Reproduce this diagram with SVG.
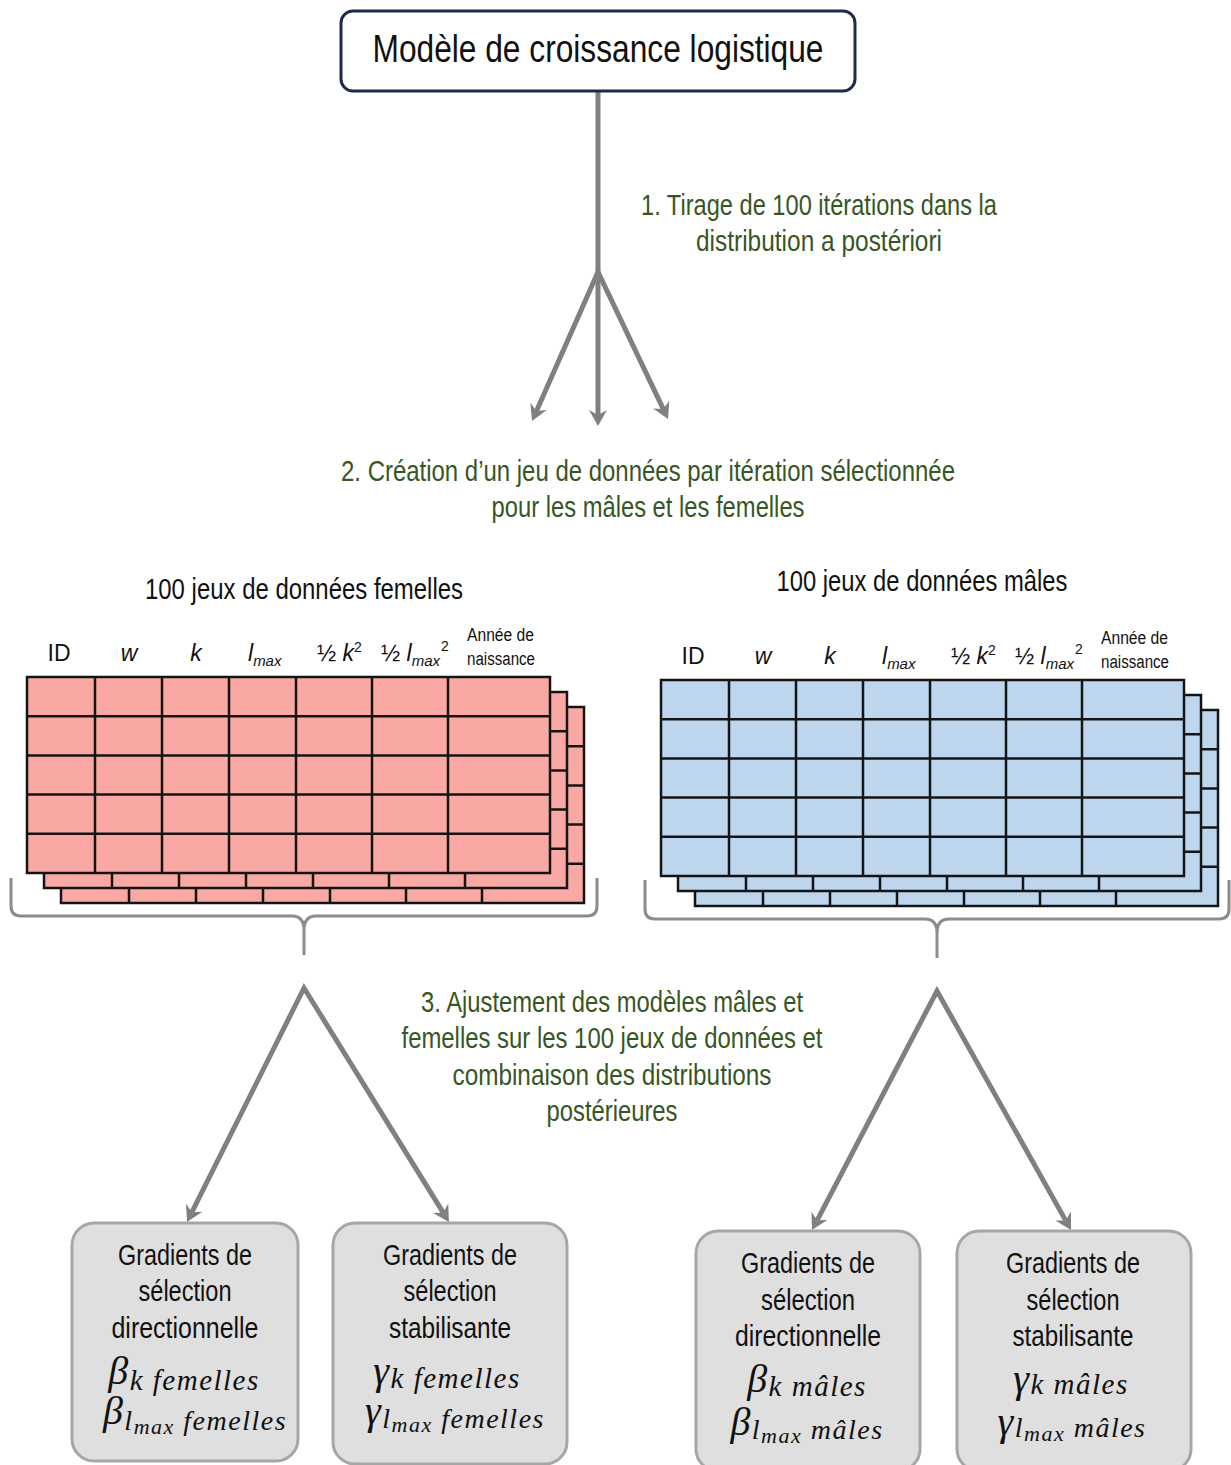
<svg xmlns="http://www.w3.org/2000/svg" xmlns:xlink="http://www.w3.org/1999/xlink" width="1231" height="1465" viewBox="0 0 1231 1465">
<style>
  .sans { font-family: "Liberation Sans", Arial, sans-serif; }
  .lbl { font-family: "Liberation Sans", Arial, sans-serif; fill: #375623; font-size: 29px; text-anchor: middle; }
  .hdr { font-family: "Liberation Sans", Arial, sans-serif; fill: #111; font-size: 23px; }
  .small { font-family: "Liberation Sans", Arial, sans-serif; fill: #111; font-size: 18px; }
  .box { fill: #DFDFDF; stroke: #A6A6A6; stroke-width: 3; }
  .btxt { font-family: "Liberation Sans", Arial, sans-serif; fill: #111; font-size: 29px; text-anchor: middle; }
  .math { font-family: "Liberation Serif", "Times New Roman", serif; font-style: italic; fill: #111; text-anchor: middle; letter-spacing: 1.5px; }
  .conn { fill: none; stroke: #808080; stroke-width: 5; stroke-linejoin: miter; stroke-miterlimit: 20; }
  .brace { fill: none; stroke: #8C8C8C; stroke-width: 3; }
  .gridlines { fill: none; }
</style>
<defs>
  <marker id="ah" markerUnits="userSpaceOnUse" markerWidth="20" markerHeight="20" refX="5" refY="9" orient="auto-start-reverse" viewBox="0 0 20 20">
    <path d="M0,0 L16,9 L0,18 L5,9 Z" fill="#808080"/>
  </marker>
  <g id="grid">
    <rect x="0" y="0" width="523" height="196"/>
    <path class="gridlines" d="M68,0V196 M135,0V196 M202,0V196 M269,0V196 M345,0V196 M421,0V196 M0,39.2H523 M0,78.4H523 M0,117.6H523 M0,156.8H523"/>
  </g>
  <g id="headers">
    <text class="hdr" x="59" y="661" text-anchor="middle">ID</text>
    <text class="hdr" x="129" y="661" text-anchor="middle" font-family="Liberation Serif" font-style="italic" font-size="25">w</text>
    <text class="hdr" x="196" y="661" text-anchor="middle" font-style="italic">k</text>
    <text class="hdr" x="248" y="661" font-style="italic">l<tspan font-size="15" dy="5">max</tspan></text>
    <text class="hdr" x="317" y="661">½ <tspan font-style="italic">k</tspan><tspan font-size="14" dy="-9">2</tspan></text>
    <text class="hdr" x="381" y="661">½ <tspan font-style="italic">l</tspan><tspan font-size="15" dy="5" font-style="italic">max</tspan><tspan font-size="14" dy="-15" dx="1">2</tspan></text>
    <text class="small" x="467" y="641" textLength="67" lengthAdjust="spacingAndGlyphs">Année de</text>
    <text class="small" x="467" y="665" textLength="68" lengthAdjust="spacingAndGlyphs">naissance</text>
  </g>
</defs>
<rect width="1231" height="1465" fill="#FFFFFF"/>

<g id="connectors">
  <line class="conn" x1="598" y1="91" x2="598" y2="415" marker-end="url(#ah)"/>
  <path class="conn" d="M536.5,410.9 L598,272 L663.3,409.1" marker-start="url(#ah)" marker-end="url(#ah)"/>
  <path class="conn" d="M191.9,1212.2 L304,988 L443.2,1212.6" marker-start="url(#ah)" marker-end="url(#ah)"/>
  <path class="conn" d="M817.1,1220.3 L937,991 L1065.6,1220.4" marker-start="url(#ah)" marker-end="url(#ah)"/>
  <path class="brace" d="M11,878 V906 Q11,916 21,916 H292 Q304,916 304,930 V955 M597,878 V906 Q597,916 587,916 H316 Q304,916 304,930"/>
  <path class="brace" d="M645,880 V909 Q645,919 655,919 H925 Q937,919 937,933 V958 M1229,880 V909 Q1229,919 1219,919 H949 Q937,919 937,933"/>
</g>

<g id="node-modele">
  <rect x="341" y="11" width="514" height="80" rx="12" fill="#FFFFFF" stroke="#1E2B47" stroke-width="3"/>
  <text class="sans" x="598" y="62" font-size="38" text-anchor="middle" fill="#111" textLength="451" lengthAdjust="spacingAndGlyphs">Modèle de croissance logistique</text>
</g>

<g id="label-1">
  <text class="lbl" x="819" y="215" textLength="356" lengthAdjust="spacingAndGlyphs">1. Tirage de 100 itérations dans la</text>
  <text class="lbl" x="819" y="251" textLength="246" lengthAdjust="spacingAndGlyphs">distribution a postériori</text>
</g>

<g id="label-2">
  <text class="lbl" x="648" y="481" textLength="614" lengthAdjust="spacingAndGlyphs">2. Création d’un jeu de données par itération sélectionnée</text>
  <text class="lbl" x="648" y="517" textLength="313" lengthAdjust="spacingAndGlyphs">pour les mâles et les femelles</text>
</g>

<g id="node-femelles">
  <text class="sans" x="304" y="599" font-size="29" text-anchor="middle" fill="#111" textLength="318" lengthAdjust="spacingAndGlyphs">100 jeux de données femelles</text>
  <use xlink:href="#headers"/>
  <g fill="#F9A8A4" stroke="#141414" stroke-width="2.5">
    <use xlink:href="#grid" x="61" y="707"/>
    <use xlink:href="#grid" x="44" y="692"/>
    <use xlink:href="#grid" x="27" y="677"/>
  </g>
</g>

<g id="node-males">
  <text class="sans" x="922" y="591" font-size="29" text-anchor="middle" fill="#111" textLength="291" lengthAdjust="spacingAndGlyphs">100 jeux de données mâles</text>
  <use xlink:href="#headers" x="634" y="3"/>
  <g fill="#BDD6EE" stroke="#141414" stroke-width="2.5">
    <use xlink:href="#grid" x="695" y="710"/>
    <use xlink:href="#grid" x="678" y="695"/>
    <use xlink:href="#grid" x="661" y="680"/>
  </g>
</g>

<g id="label-3">
  <text class="lbl" x="612" y="1012" textLength="382" lengthAdjust="spacingAndGlyphs">3. Ajustement des modèles mâles et</text>
  <text class="lbl" x="612" y="1048" textLength="421" lengthAdjust="spacingAndGlyphs">femelles sur les 100 jeux de données et</text>
  <text class="lbl" x="612" y="1085" textLength="319" lengthAdjust="spacingAndGlyphs">combinaison des distributions</text>
  <text class="lbl" x="612" y="1121" textLength="131" lengthAdjust="spacingAndGlyphs">postérieures</text>
</g>

<g id="node-dir-femelles">
  <rect class="box" x="72" y="1223" width="226" height="238" rx="22"/>
  <text class="btxt" x="185" y="1265" textLength="134" lengthAdjust="spacingAndGlyphs">Gradients de</text>
  <text class="btxt" x="185" y="1301" textLength="93" lengthAdjust="spacingAndGlyphs">sélection</text>
  <text class="btxt" x="185" y="1338" textLength="147" lengthAdjust="spacingAndGlyphs">directionnelle</text>
  <text class="math" x="184" y="1384"><tspan font-size="40">β</tspan><tspan font-size="29" dy="6">k femelles</tspan></text>
  <text class="math" x="195" y="1424"><tspan font-size="40">β</tspan><tspan font-size="28" dy="6">l</tspan><tspan font-size="22" dy="4">max</tspan><tspan font-size="28" dy="-4"> femelles</tspan></text>
</g>

<g id="node-stab-femelles">
  <rect class="box" x="333" y="1223" width="234" height="241" rx="22"/>
  <text class="btxt" x="450" y="1265" textLength="134" lengthAdjust="spacingAndGlyphs">Gradients de</text>
  <text class="btxt" x="450" y="1301" textLength="93" lengthAdjust="spacingAndGlyphs">sélection</text>
  <text class="btxt" x="450" y="1338" textLength="122" lengthAdjust="spacingAndGlyphs">stabilisante</text>
  <text class="math" x="447" y="1384"><tspan font-size="40">γ</tspan><tspan font-size="29" dy="4">k femelles</tspan></text>
  <text class="math" x="455" y="1424"><tspan font-size="40">γ</tspan><tspan font-size="28" dy="4">l</tspan><tspan font-size="22" dy="4">max</tspan><tspan font-size="28" dy="-4"> femelles</tspan></text>
</g>

<g id="node-dir-males">
  <rect class="box" x="696" y="1231" width="224" height="240" rx="22"/>
  <text class="btxt" x="808" y="1273" textLength="134" lengthAdjust="spacingAndGlyphs">Gradients de</text>
  <text class="btxt" x="808" y="1310" textLength="94" lengthAdjust="spacingAndGlyphs">sélection</text>
  <text class="btxt" x="808" y="1346" textLength="146" lengthAdjust="spacingAndGlyphs">directionnelle</text>
  <text class="math" x="807" y="1392"><tspan font-size="40">β</tspan><tspan font-size="29" dy="4">k mâles</tspan></text>
  <text class="math" x="807" y="1435"><tspan font-size="40">β</tspan><tspan font-size="28" dy="4">l</tspan><tspan font-size="22" dy="4">max</tspan><tspan font-size="28" dy="-4"> mâles</tspan></text>
</g>

<g id="node-stab-males">
  <rect class="box" x="957" y="1231" width="234" height="240" rx="22"/>
  <text class="btxt" x="1073" y="1273" textLength="134" lengthAdjust="spacingAndGlyphs">Gradients de</text>
  <text class="btxt" x="1073" y="1310" textLength="93" lengthAdjust="spacingAndGlyphs">sélection</text>
  <text class="btxt" x="1073" y="1346" textLength="121" lengthAdjust="spacingAndGlyphs">stabilisante</text>
  <text class="math" x="1071" y="1392"><tspan font-size="40">γ</tspan><tspan font-size="29" dy="2">k mâles</tspan></text>
  <text class="math" x="1072" y="1435"><tspan font-size="40">γ</tspan><tspan font-size="28" dy="2">l</tspan><tspan font-size="22" dy="4">max</tspan><tspan font-size="28" dy="-4"> mâles</tspan></text>
</g>
</svg>
